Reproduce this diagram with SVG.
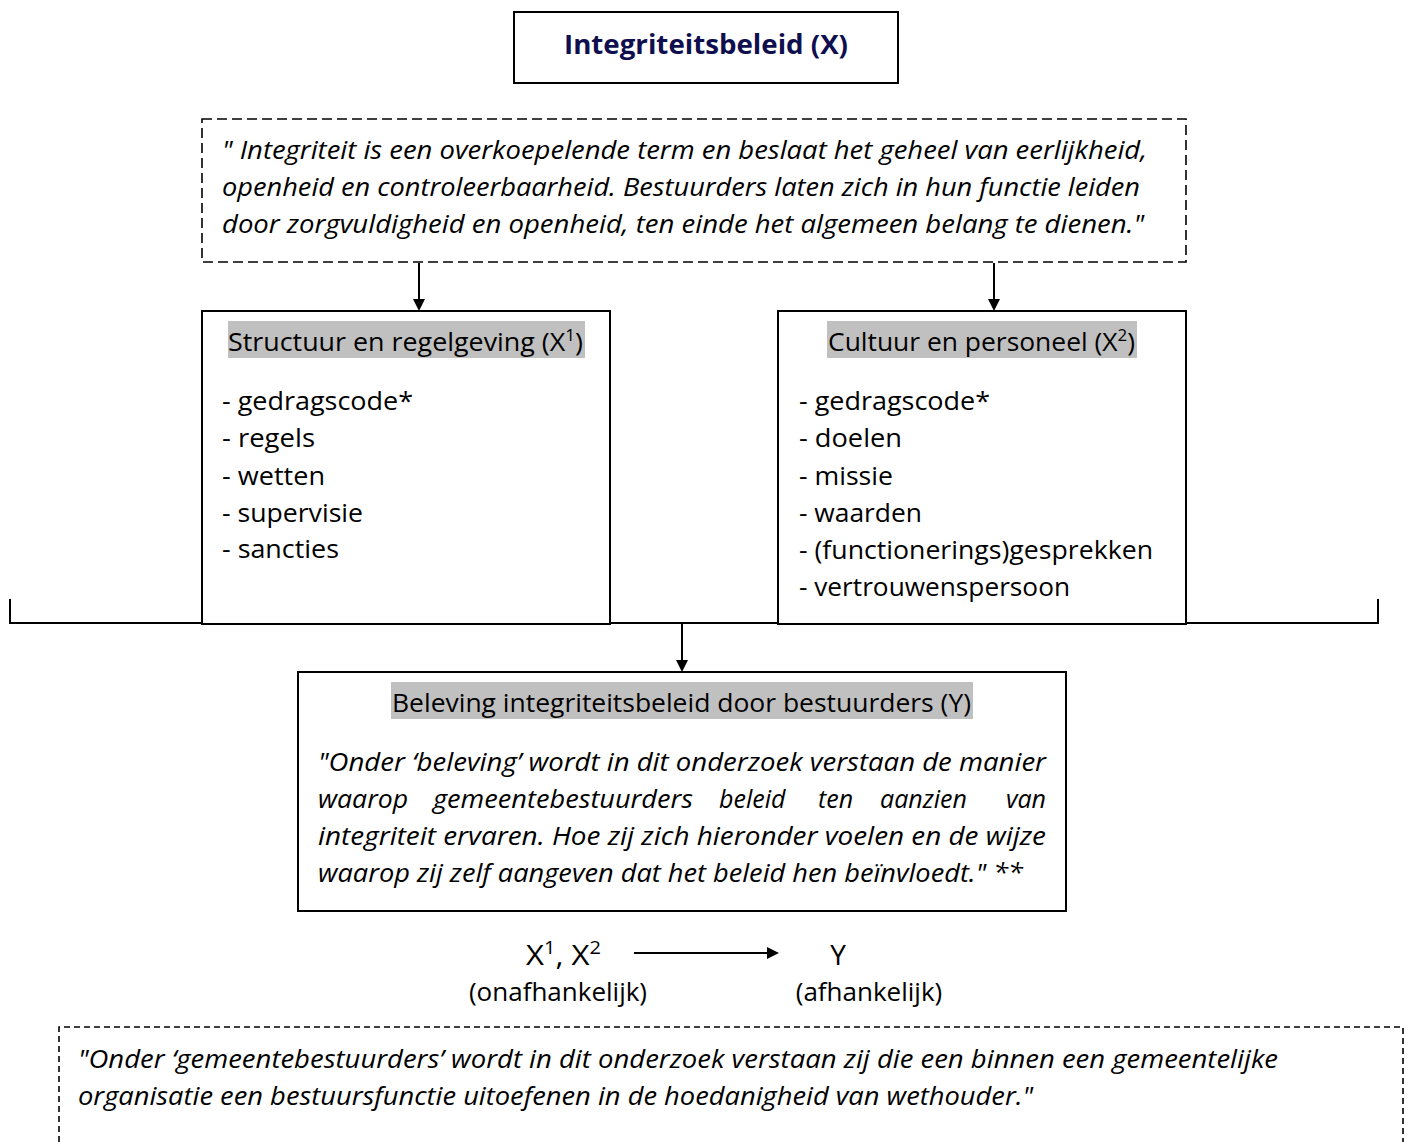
<svg xmlns="http://www.w3.org/2000/svg" width="1407" height="1142" viewBox="0 0 1407 1142">
<style>
.box{fill:#fff;stroke:#000;stroke-width:2}
.dash{fill:none;stroke:#000;stroke-width:1.6;stroke-dasharray:10 5}
.dash2{fill:none;stroke:#000;stroke-width:1.6;stroke-dasharray:6 4}
.t{font-family:"Open Sans","Noto Sans","Liberation Sans",sans-serif;font-size:25px;fill:#000}
.li{font-size:26px}
.i{font-style:italic}
.hl{fill:#c0c0c0}
.ln{fill:none;stroke:#000;stroke-width:2}
</style>
<defs>
<marker id="ah" markerWidth="12" markerHeight="12" refX="10" refY="6" orient="auto" markerUnits="userSpaceOnUse">
<path d="M0,0 L12,6 L0,12 Z" fill="#000"/>
</marker>
</defs>
<g id="connectors">
<line class="ln" x1="419" y1="263" x2="419" y2="309" marker-end="url(#ah)"/>
<line class="ln" x1="994" y1="263" x2="994" y2="309" marker-end="url(#ah)"/>
<path class="ln" d="M10,599 V623 H1378 V599"/>
<line class="ln" x1="682" y1="623" x2="682" y2="670" marker-end="url(#ah)"/>
<line class="ln" x1="634" y1="953" x2="777" y2="953" marker-end="url(#ah)"/>
</g>
<g id="title">
<rect class="box" x="514" y="12" width="384" height="71"/>
<text x="706" y="54" text-anchor="middle" class="t" style="font-weight:bold;font-size:26px;fill:#0f0f50" textLength="284" lengthAdjust="spacingAndGlyphs">Integriteitsbeleid (X)</text>
</g>
<g id="definition">
<rect class="dash" x="202" y="119" width="984" height="143"/>
<text class="t i" x="222" y="159" textLength="925" lengthAdjust="spacingAndGlyphs">" Integriteit is een overkoepelende term en beslaat het geheel van eerlijkheid,</text>
<text class="t i" x="222" y="196" textLength="918" lengthAdjust="spacingAndGlyphs">openheid en controleerbaarheid. Bestuurders laten zich in hun functie leiden</text>
<text class="t i" x="222" y="233" textLength="922" lengthAdjust="spacingAndGlyphs">door zorgvuldigheid en openheid, ten einde het algemeen belang te dienen."</text>
</g>
<g id="structuur">
<rect class="box" x="202" y="311" width="408" height="313"/>
<rect class="hl" x="228" y="321" width="357" height="37"/>
<text class="t" x="228" y="351" textLength="355" lengthAdjust="spacingAndGlyphs">Structuur en regelgeving (X<tspan font-size="16" dy="-10">1</tspan><tspan dy="10">)</tspan></text>
<text class="t li" x="222" y="410" textLength="191" lengthAdjust="spacingAndGlyphs">- gedragscode*</text>
<text class="t li" x="222" y="447" textLength="93" lengthAdjust="spacingAndGlyphs">- regels</text>
<text class="t li" x="222" y="485" textLength="103" lengthAdjust="spacingAndGlyphs">- wetten</text>
<text class="t li" x="222" y="522" textLength="141" lengthAdjust="spacingAndGlyphs">- supervisie</text>
<text class="t li" x="222" y="558" textLength="117" lengthAdjust="spacingAndGlyphs">- sancties</text>
</g>
<g id="cultuur">
<rect class="box" x="778" y="311" width="408" height="313"/>
<rect class="hl" x="827" y="321" width="310" height="37"/>
<text class="t" x="828" y="351" textLength="307" lengthAdjust="spacingAndGlyphs">Cultuur en personeel (X<tspan font-size="16" dy="-10">2</tspan><tspan dy="10">)</tspan></text>
<text class="t li" x="799" y="410" textLength="191" lengthAdjust="spacingAndGlyphs">- gedragscode*</text>
<text class="t li" x="799" y="447" textLength="103" lengthAdjust="spacingAndGlyphs">- doelen</text>
<text class="t li" x="799" y="485" textLength="94" lengthAdjust="spacingAndGlyphs">- missie</text>
<text class="t li" x="799" y="522" textLength="123" lengthAdjust="spacingAndGlyphs">- waarden</text>
<text class="t li" x="799" y="559" textLength="354" lengthAdjust="spacingAndGlyphs">- (functionerings)gesprekken</text>
<text class="t li" x="799" y="596" textLength="271" lengthAdjust="spacingAndGlyphs">- vertrouwenspersoon</text>
</g>
<g id="beleving">
<rect class="box" x="298" y="672" width="768" height="239"/>
<rect class="hl" x="391" y="682" width="582" height="37"/>
<text class="t" x="392" y="712" textLength="579" lengthAdjust="spacingAndGlyphs">Beleving integriteitsbeleid door bestuurders (Y)</text>
<text class="t i" x="318" y="771" textLength="728" lengthAdjust="spacingAndGlyphs">"Onder ‘beleving’ wordt in dit onderzoek verstaan de manier</text>
<text class="t i" x="318" y="808" textLength="90" lengthAdjust="spacingAndGlyphs">waarop</text>
<text class="t i" x="433" y="808" textLength="260" lengthAdjust="spacingAndGlyphs">gemeentebestuurders</text>
<text class="t i" x="719" y="808">beleid</text>
<text class="t i" x="818" y="808">ten</text>
<text class="t i" x="880" y="808">aanzien</text>
<text class="t i" x="1046" y="808" text-anchor="end">van</text>
<text class="t i" x="318" y="845" textLength="728" lengthAdjust="spacingAndGlyphs">integriteit ervaren. Hoe zij zich hieronder voelen en de wijze</text>
<text class="t i" x="318" y="882" textLength="705" lengthAdjust="spacingAndGlyphs">waarop zij zelf aangeven dat het beleid hen beïnvloedt." **</text>
</g>
<g id="legend">
<text class="t" x="526" y="965" style="font-size:28px" textLength="75" lengthAdjust="spacingAndGlyphs">X<tspan font-size="18" dy="-11">1</tspan><tspan dy="11">, X</tspan><tspan font-size="18" dy="-11">2</tspan></text>
<text class="t" x="838" y="965" text-anchor="middle" style="font-size:28px">Y</text>
<text class="t li" x="558" y="1001" text-anchor="middle">(onafhankelijk)</text>
<text class="t li" x="869" y="1001" text-anchor="middle">(afhankelijk)</text>
</g>
<g id="footnote">
<path class="dash2" d="M59,1142 V1027 H1403 V1142"/>
<text class="t i" x="78" y="1068" textLength="1200" lengthAdjust="spacingAndGlyphs">"Onder ‘gemeentebestuurders’ wordt in dit onderzoek verstaan zij die een binnen een gemeentelijke</text>
<text class="t i" x="78" y="1105" textLength="955" lengthAdjust="spacingAndGlyphs">organisatie een bestuursfunctie uitoefenen in de hoedanigheid van wethouder."</text>
</g>
</svg>
